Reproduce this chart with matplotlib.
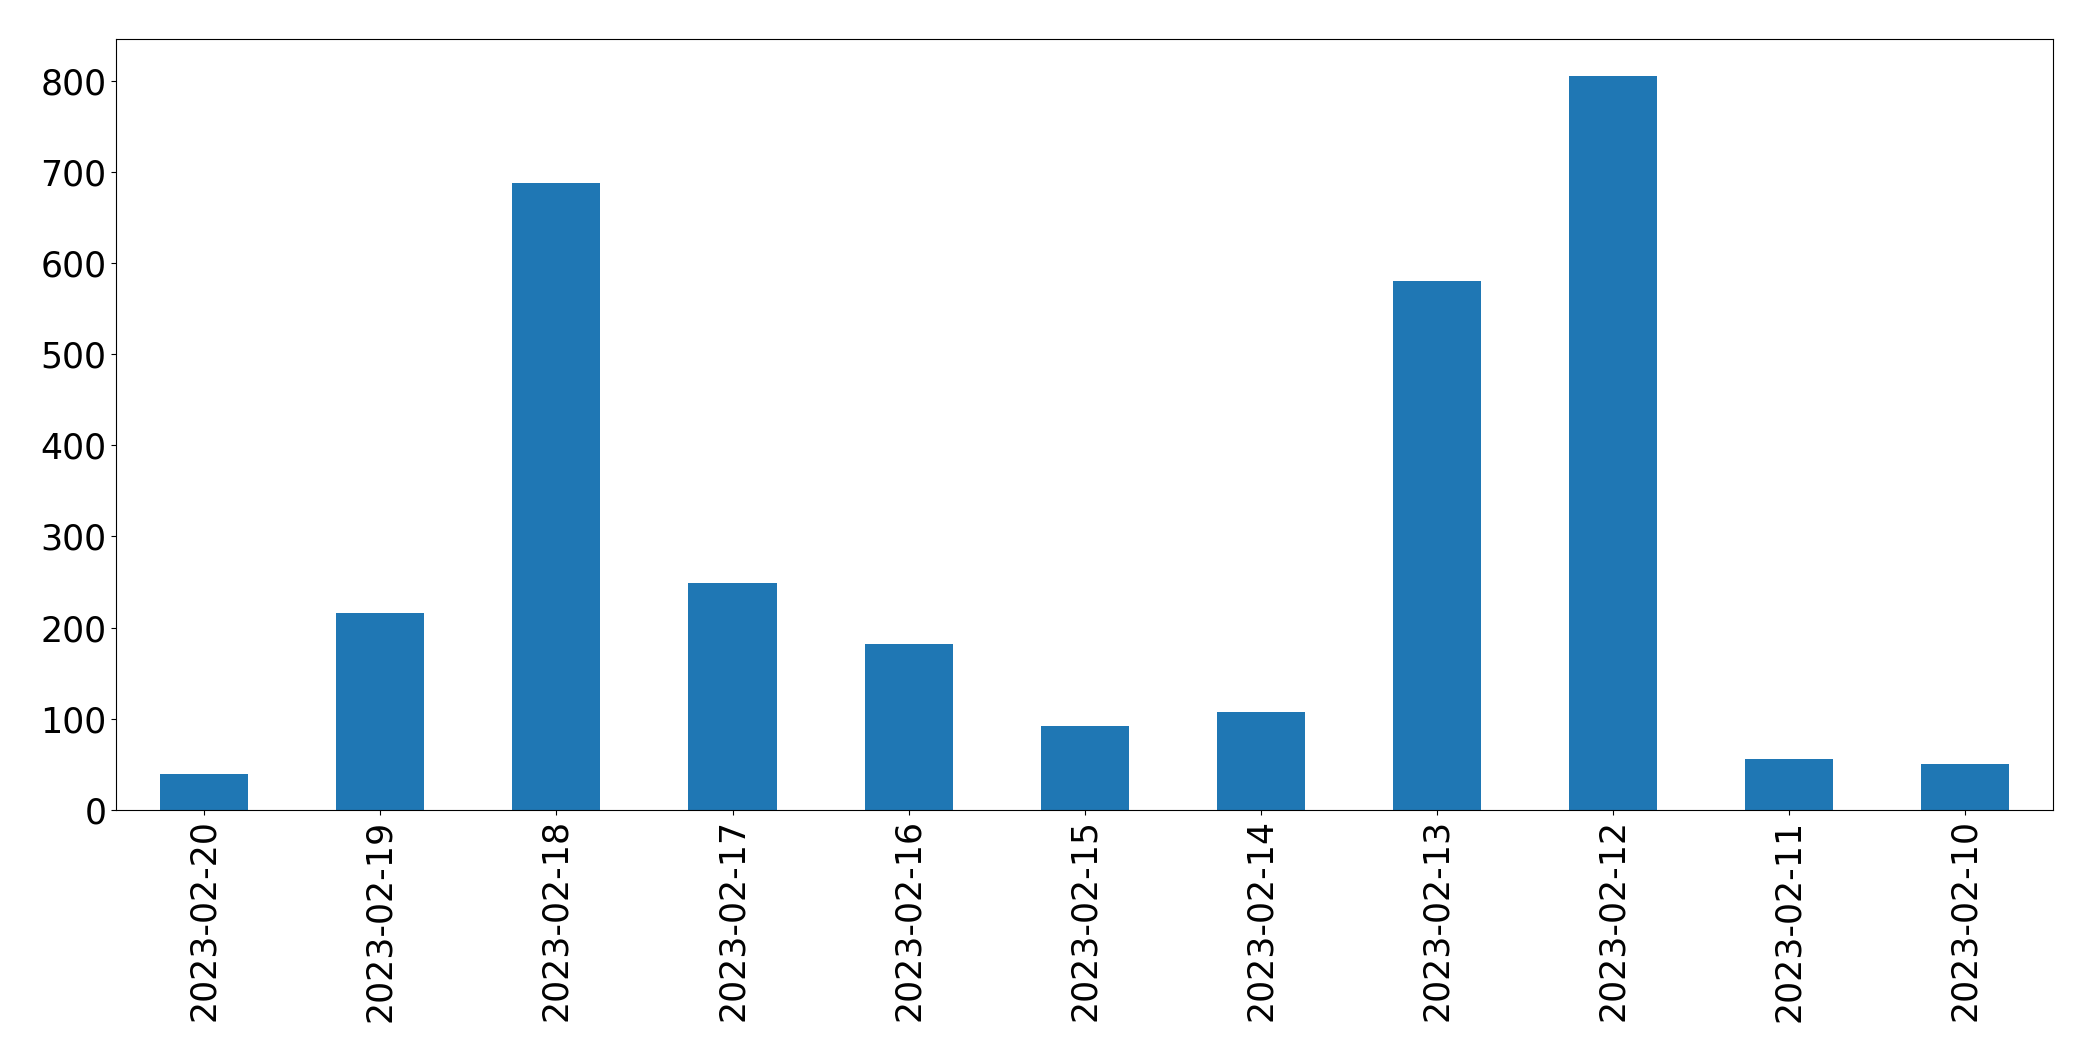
import matplotlib
matplotlib.use("Agg")
import matplotlib.pyplot as plt

# daily counts, newest first
dates = ['2023-02-20', '2023-02-19', '2023-02-18', '2023-02-17', '2023-02-16',
         '2023-02-15', '2023-02-14', '2023-02-13', '2023-02-12', '2023-02-11',
         '2023-02-10']
counts = [39, 216, 688, 249, 182, 92, 107, 581, 806, 56, 50]

fig, ax = plt.subplots(figsize=(20.93, 10.61), dpi=100)
x = range(len(dates))
ax.bar(x, counts, width=0.5, color='#1f77b4')
ax.set_xlim(-0.5, len(dates) - 0.5)
ax.set_xticks(list(x))
ax.set_xticklabels(dates, rotation=90)
ax.tick_params(axis='both', labelsize=25)

plt.subplots_adjust(left=0.0555, right=0.981, top=0.963, bottom=0.237)
plt.savefig('out.png', dpi=100)
